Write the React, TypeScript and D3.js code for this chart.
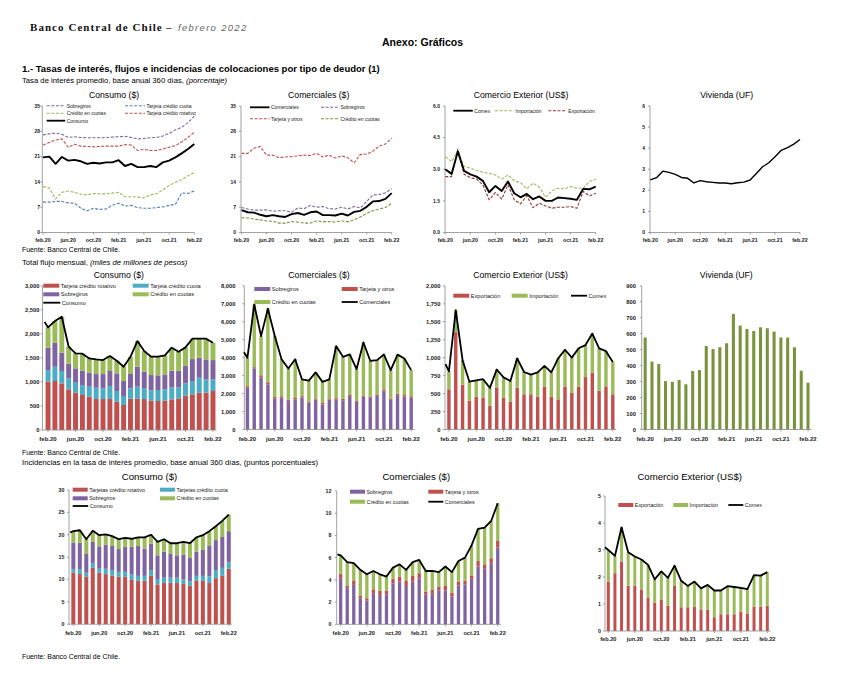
import React from "react";
import * as d3 from "d3";

// ---------------- categories ----------------
const months = ["feb.20","mar.20","abr.20","may.20","jun.20","jul.20","ago.20","sep.20","oct.20","nov.20","dic.20","ene.21","feb.21","mar.21","abr.21","may.21","jun.21","jul.21","ago.21","sep.21","oct.21","nov.21","dic.21","ene.22","feb.22"];
const tickMonths = ["feb.20","jun.20","oct.20","feb.21","jun.21","oct.21","feb.22"];

// ---------------- tasas (porcentaje) ----------------
const rateConsumo = [20.8,21.0,19.0,20.9,19.9,20.1,19.7,19.0,19.3,19.1,19.4,19.4,20.0,18.4,19.0,18.1,18.1,18.4,18.1,19.4,19.9,20.8,21.9,23.1,24.5];
const rateConsSobregiros = [27.0,27.3,27.5,27.2,26.3,26.5,26.3,26.2,26.2,26.2,26.3,26.4,26.5,26.6,26.3,25.9,26.0,26.2,26.3,26.7,27.4,28.4,29.1,30.4,32.2];
const rateConsRotativo = [24.2,24.9,25.6,25.9,23.6,24.4,23.9,23.8,23.7,23.8,23.9,23.9,23.9,24.3,24.2,22.7,23.0,22.7,22.7,23.1,23.6,24.0,25.1,26.3,27.7];
const rateConsCuotas = [12.7,12.3,9.3,11.1,11.5,11.1,10.6,10.4,10.8,10.7,10.7,10.9,11.1,9.9,9.9,9.8,9.6,10.4,10.7,11.8,13.0,13.9,14.6,15.7,16.6];
const rateConsTarjCuota = [8.4,8.4,8.6,8.6,8.2,8.1,6.7,6.0,6.7,6.4,6.5,7.5,8.1,7.3,7.5,6.9,6.7,6.7,6.9,7.1,7.5,7.8,10.9,10.8,11.5];

const rateComerciales = [6.2,5.6,5.5,4.9,4.5,4.8,4.5,4.3,5.1,5.4,4.9,5.6,5.8,4.8,4.8,4.7,5.2,4.7,5.7,6.0,7.1,8.6,8.7,9.3,10.9];
const rateComTarjeta = [21.9,21.9,23.3,23.8,21.4,21.4,20.7,20.9,21.0,21.2,21.4,21.3,21.9,20.9,21.4,20.6,21.2,20.7,19.3,21.6,21.7,22.5,23.9,24.5,26.1];
const rateComSobregiros = [6.9,6.5,6.2,6.2,6.3,5.9,6.0,6.0,5.6,6.8,6.6,7.5,7.0,7.2,6.6,6.5,7.0,6.5,7.2,6.8,8.6,10.4,10.5,11.0,12.1];
const rateComCuotas = [4.1,4.0,3.7,3.5,3.2,3.1,2.6,2.6,3.0,2.9,2.6,2.6,3.2,3.0,3.0,2.9,3.2,3.0,3.5,4.3,5.3,6.0,6.5,6.9,8.1];

const rateComex = [3.0,2.78,3.84,2.92,2.76,2.65,2.45,1.91,2.21,1.97,2.42,1.86,1.67,1.83,1.58,1.71,1.5,1.5,1.66,1.63,1.6,1.55,2.07,2.05,2.18];
const rateImport = [3.6,3.36,3.9,3.13,3.05,2.94,2.86,2.81,2.73,2.53,2.73,2.45,2.37,2.07,2.34,2.15,1.67,1.97,2.1,2.07,2.18,2.1,2.1,2.42,2.53];
const rateExport = [2.65,2.65,3.96,2.76,2.6,2.53,2.26,1.55,1.9,1.58,2.26,1.55,1.36,1.74,1.18,1.39,1.26,1.15,1.2,1.2,1.23,1.15,1.95,1.74,1.86];

const rateVivienda = [2.5,2.6,2.91,2.85,2.76,2.61,2.57,2.35,2.46,2.41,2.38,2.35,2.35,2.31,2.36,2.39,2.49,2.8,3.12,3.31,3.59,3.9,4.03,4.19,4.41];

// ---------------- flujos (miles de millones) ----------------
const flowConsRotativo = [1005,1019,970,845,776,728,693,644,644,644,589,520,651,651,644,610,603,610,637,658,714,742,776,776,811];
const flowConsTarjCuota = [242,298,257,229,208,207,208,236,222,271,222,187,215,250,229,215,229,235,250,229,256,277,312,277,242];
const flowConsSobregiros = [464,499,381,305,298,299,291,284,298,312,367,312,312,416,340,318,305,312,347,347,361,457,416,416,402];
const flowConsCuotas = [423,450,748,354,312,353,298,305,291,311,263,298,347,533,429,382,388,395,478,394,388,423,395,430,361];
const flowConsLead = 2250;

const flowComSobregiros = [2320,3400,2900,2500,1730,1780,1580,1670,1780,1490,1670,1390,1670,1670,1630,1860,1540,1820,1760,1860,2130,1650,1910,1840,1780];
const flowComTarjeta = [90,70,120,130,90,75,90,90,75,70,60,90,60,75,75,90,75,75,75,75,75,75,90,75,75];
const flowComCuotas = [1580,3490,2180,4100,3400,2060,1730,2150,930,1160,1450,1170,1060,2900,2340,2230,1750,2950,1990,1930,1970,1580,2170,2040,1450];
const flowComLead = 4300;

const flowExport = [560,1355,625,400,455,445,330,585,440,385,580,490,490,455,595,455,420,600,510,595,730,790,540,600,490];
const flowImport = [250,305,340,265,230,255,250,250,285,290,410,310,275,340,290,340,570,510,490,535,445,545,590,490,450];
const flowComexLead = 910;

const flowVivienda = [576,425,410,303,299,310,283,366,372,523,504,515,540,724,651,630,617,640,634,613,576,576,515,368,293];

// ---------------- incidencias (puntos porcentuales) ----------------
const incConsRotativo = [11.5,11.2,10.6,12.6,11.5,11.2,10.9,10.6,10.6,10.0,9.7,9.7,10.8,8.9,9.2,9.3,9.2,9.0,8.6,9.7,9.7,9.2,10.3,10.8,12.4];
const incConsTarjCuota = [0.8,1.1,0.9,1.1,0.9,1.2,1.2,1.1,1.1,1.1,1.1,1.1,1.3,1.2,1.2,1.1,1.2,1.0,1.0,1.1,1.1,1.5,1.8,1.8,1.4];
const incConsSobregiros = [5.9,5.9,4.2,4.7,5.0,5.4,5.4,5.1,5.6,6.2,6.7,6.1,5.9,5.3,5.8,5.4,5.0,5.6,5.2,5.4,5.9,6.9,6.7,6.9,7.0];
const incConsCuotas = [2.6,2.8,3.3,2.5,2.5,2.3,2.2,2.2,2.0,1.8,1.9,2.5,2.0,3.0,2.8,2.3,2.7,2.8,3.3,3.2,3.2,3.2,3.1,3.6,3.7];
const incConsLead = 20.5;

const incComSobregiros = [4.1,3.25,3.55,2.35,2.15,2.8,2.65,2.7,3.65,3.85,3.45,3.85,4.15,2.7,2.75,3.05,3.05,2.5,3.5,3.6,4.1,5.2,5.05,5.5,6.9];
const incComTarjeta = [0.45,0.2,0.35,0.25,0.2,0.35,0.35,0.35,0.45,0.45,0.45,0.5,0.45,0.25,0.35,0.35,0.4,0.35,0.35,0.35,0.3,0.5,0.35,0.45,0.6];
const incComCuotas = [1.65,2.15,1.6,2.3,2.15,1.65,1.5,1.25,1.0,1.1,1.0,1.25,1.2,1.85,1.7,1.3,1.75,1.85,1.85,2.05,2.7,2.9,3.3,3.35,3.4];
const incComLead = 6.3;

const incExport = [1.83,2.14,2.57,1.68,1.68,1.54,1.23,1.05,1.17,0.93,1.67,0.88,0.88,0.9,0.78,0.78,0.51,0.62,0.62,0.62,0.72,0.65,0.9,0.9,0.94];
const incImport = [1.17,0.64,1.27,1.24,1.08,1.11,1.22,0.86,1.04,1.04,0.75,0.98,0.79,0.93,0.8,0.93,0.99,0.88,1.04,1.01,0.88,0.9,1.17,1.15,1.24];
const incComexLead = 3.1;

// ---------------- styling ----------------
const FONT = "'Liberation Sans', Arial, Helvetica, sans-serif";
const AXIS = "#8a8a8a";
const C = {
  red: "#C0504D", blue: "#4BACC6", purple: "#8064A2", green: "#9BBB59",
  dgreen: "#77933C", lblue: "#4F81BD", dred: "#953735", black: "#000000",
};

type LegendItem = { label: string; kind: "rect" | "line" | "dash"; color: string; x: number; y: number; w?: number };

function Legend({ items, fs }: { items: LegendItem[]; fs: number }) {
  return (
    <g>
      {items.map((it, i) => {
        const w = it.w ?? 16;
        return (
          <g key={i}>
            {it.kind === "rect" ? (
              <rect x={it.x} y={it.y - 2} width={w} height={4} fill={it.color} />
            ) : (
              <line x1={it.x} x2={it.x + w} y1={it.y} y2={it.y} stroke={it.color}
                strokeWidth={it.kind === "line" ? 1.8 : 1.1}
                strokeDasharray={it.kind === "dash" ? "3,1.6" : undefined} />
            )}
            <text x={it.x + w + 1.5} y={it.y} dy="0.36em" fontSize={fs} fill="#1a1a1a">{it.label}</text>
          </g>
        );
      })}
    </g>
  );
}

type FrameCfg = {
  axisX: number; right: number; top: number; bottom: number;
  yMax: number; yStep: number; fmt: (v: number) => string;
  labelRight: number; tickFs: number; xLabelY: number; xFs: number;
  title: string; titleX: number; titleY: number; titleFs: number;
};

function Frame({ f, y, xOf }: { f: FrameCfg; y: d3.ScaleLinear<number, number>; xOf: (m: string) => number }) {
  const ticks = d3.range(0, f.yMax + f.yStep / 2, f.yStep);
  return (
    <g>
      <text x={f.titleX} y={f.titleY} textAnchor="middle" fontSize={f.titleFs} fill="#000">{f.title}</text>
      <line x1={f.axisX} x2={f.axisX} y1={f.bottom} y2={f.top} stroke={AXIS} strokeWidth={0.8} />
      <line x1={f.axisX} x2={f.right} y1={f.bottom} y2={f.bottom} stroke={AXIS} strokeWidth={0.8} />
      {ticks.map((t) => (
        <g key={t}>
          <line x1={f.axisX - 2} x2={f.axisX} y1={y(t)} y2={y(t)} stroke={AXIS} strokeWidth={0.8} />
          <text x={f.labelRight} y={y(t)} dy="0.36em" textAnchor="end" fontSize={f.tickFs} fontWeight="bold" fill="#222">{f.fmt(t)}</text>
        </g>
      ))}
      {tickMonths.map((m) => (
        <g key={m}>
          <line x1={xOf(m)} x2={xOf(m)} y1={f.bottom} y2={f.bottom + 2} stroke={AXIS} strokeWidth={0.8} />
          <text x={xOf(m)} y={f.xLabelY} textAnchor="middle" fontSize={f.xFs} fontWeight="bold" fill="#222">{m}</text>
        </g>
      ))}
    </g>
  );
}

type LineSeries = { values: number[]; color: string; dash?: boolean; width: number };

function RatePanel({ f, x0, series, legend, legendFs }: { f: FrameCfg; x0: number; series: LineSeries[]; legend: LegendItem[]; legendFs: number }) {
  const x = d3.scalePoint<string>().domain(months).range([x0, f.right]);
  const y = d3.scaleLinear().domain([0, f.yMax]).range([f.bottom, f.top]);
  const line = d3.line<number>().x((_, i) => x(months[i]) as number).y((d) => y(d));
  return (
    <g>
      <Frame f={f} y={y} xOf={(m) => x(m) as number} />
      {series.map((s, i) => (
        <path key={i} d={line(s.values) || ""} fill="none" stroke={s.color} strokeWidth={s.width}
          strokeDasharray={s.dash ? "3,1.6" : undefined} strokeLinejoin="round" />
      ))}
      <Legend items={legend} fs={legendFs} />
    </g>
  );
}

type StackSeries = { key: string; values: number[]; color: string };

function StackPanel({ f, band, ratio, stacks, lead, legend, legendFs }: {
  f: FrameCfg; band: [number, number]; ratio: number; stacks: StackSeries[]; lead?: number; legend: LegendItem[]; legendFs: number;
}) {
  const x = d3.scaleBand<string>().domain(months).range(band).padding(0);
  const y = d3.scaleLinear().domain([0, f.yMax]).range([f.bottom, f.top]);
  const bw = x.bandwidth();
  const w = bw * ratio;
  const table = months.map((m, i) => {
    const o: Record<string, any> = { m };
    stacks.forEach((s) => (o[s.key] = s.values[i]));
    return o;
  });
  const layers = d3.stack<Record<string, any>>().keys(stacks.map((s) => s.key))(table);
  const totals = months.map((_, i) => d3.sum(stacks, (s) => s.values[i]));
  const pts: [number, number][] = [];
  if (lead !== undefined) {
    pts.push([band[0], lead]);
    totals.forEach((v, i) => pts.push([(x(months[i]) as number) + bw / 2, v]));
  }
  const line = d3.line<[number, number]>().x((d) => d[0]).y((d) => y(d[1]));
  return (
    <g>
      {layers.map((layer, li) => (
        <g key={li} fill={stacks[li].color}>
          {layer.map((d, i) => (
            <rect key={i} x={(x(months[i]) as number) + (bw - w) / 2} width={w}
              y={y(d[1])} height={Math.max(0, y(d[0]) - y(d[1]))} />
          ))}
        </g>
      ))}
      <Frame f={f} y={y} xOf={(m) => (x(m) as number) + bw / 2} />
      {lead !== undefined && (
        <path d={line(pts) || ""} fill="none" stroke="#000" strokeWidth={1.8} strokeLinejoin="round" />
      )}
      <Legend items={legend} fs={legendFs} />
    </g>
  );
}

const fmtInt = (v: number) => String(v);
const fmt1 = d3.format(".1f");
const fmtComma = d3.format(",");

export default function App() {
  const r1 = { top: 106, bottom: 232.5, tickFs: 5, xLabelY: 242, xFs: 5.3, titleY: 97.7, titleFs: 8.7 };
  const r2 = { top: 285.8, bottom: 429.5, tickFs: 5.8, xLabelY: 441, xFs: 6, titleY: 278, titleFs: 8.7 };
  const r3 = { top: 490, bottom: 624.2, tickFs: 5.3, xLabelY: 634.5, xFs: 5.6, titleY: 479.5, titleFs: 9.6 };

  return (
    <svg width={857} height={678} fontFamily={FONT}
      style={{ position: "absolute", left: 0, top: 0, background: "#fff", display: "block" }}>
      <rect x={0} y={0} width={857} height={678} fill="#fff" />
      {/* header */}
      <text x={30} y={31} fontFamily="'Liberation Serif', 'Times New Roman', serif" fontWeight="bold" fontSize={11} letterSpacing={1.05} fill="#111">Banco Central de Chile</text>
      <text x={166} y={31} fontSize={10} fill="#333">–</text>
      <text x={178} y={31} fontStyle="italic" fontSize={9.5} letterSpacing={1.3} fill="#666">febrero 2022</text>
      <text x={382} y={46} fontWeight="bold" fontSize={10.5} fill="#000">Anexo: Gráficos</text>
      <text x={22} y={71.5} fontWeight="bold" fontSize={9.5} fill="#000">1.- Tasas de interés, flujos e incidencias de colocaciones por tipo de deudor (1)</text>
      <text x={22} y={83} fontSize={7.7} fill="#000">Tasa de interés promedio, base anual 360 días, <tspan fontStyle="italic">(porcentaje)</tspan></text>
      <text x={22} y={252} fontSize={6.9} fill="#000">Fuente: Banco Central de Chile.</text>
      <text x={22} y={264.5} fontSize={7.7} fill="#000">Total flujo mensual, <tspan fontStyle="italic">(miles de millones de pesos)</tspan></text>
      <text x={22} y={454.5} fontSize={6.9} fill="#000">Fuente: Banco Central de Chile.</text>
      <text x={22} y={465} fontSize={7.7} fill="#000">Incidencias en la tasa de interés promedio, base anual 360 días, (puntos porcentuales)</text>
      <text x={22} y={659} fontSize={6.9} fill="#000">Fuente: Banco Central de Chile.</text>

      {/* ---------- Row 1: tasas ---------- */}
      <RatePanel
        f={{ ...r1, axisX: 42.3, right: 194.3, yMax: 35, yStep: 7, fmt: fmtInt, labelRight: 40, title: "Consumo ($)", titleX: 114 }}
        x0={43}
        series={[
          { values: rateConsSobregiros, color: C.purple, dash: true, width: 1.1 },
          { values: rateConsTarjCuota, color: C.lblue, dash: true, width: 1.1 },
          { values: rateConsCuotas, color: C.green, dash: true, width: 1.1 },
          { values: rateConsRotativo, color: C.red, dash: true, width: 1.1 },
          { values: rateConsumo, color: C.black, width: 1.9 },
        ]}
        legend={[
          { label: "Sobregiros", kind: "dash", color: C.purple, x: 46.7, y: 105.7, w: 18.5 },
          { label: "Tarjeta crédito cuota", kind: "dash", color: C.lblue, x: 125, y: 105.7, w: 20 },
          { label: "Crédito en cuotas", kind: "dash", color: C.green, x: 46.7, y: 113.2, w: 18.5 },
          { label: "Tarjeta crédito rotativo", kind: "dash", color: C.red, x: 125, y: 113.2, w: 20 },
          { label: "Consumo", kind: "line", color: C.black, x: 46.7, y: 120.7, w: 18.5 },
        ]}
        legendFs={5}
      />
      <RatePanel
        f={{ ...r1, axisX: 241, right: 391.7, yMax: 35, yStep: 7, fmt: fmtInt, labelRight: 236, title: "Comerciales ($)", titleX: 318.7 }}
        x0={241.5}
        series={[
          { values: rateComTarjeta, color: C.red, dash: true, width: 1.1 },
          { values: rateComSobregiros, color: C.purple, dash: true, width: 1.1 },
          { values: rateComCuotas, color: C.dgreen, dash: true, width: 1.1 },
          { values: rateComerciales, color: C.black, width: 1.9 },
        ]}
        legend={[
          { label: "Comerciales", kind: "line", color: C.black, x: 250, y: 107.3, w: 19.5 },
          { label: "Sobregiros", kind: "dash", color: C.purple, x: 321, y: 107.3, w: 18 },
          { label: "Tarjeta y otros", kind: "dash", color: C.red, x: 250, y: 118.7, w: 19.5 },
          { label: "Crédito en cuotas", kind: "dash", color: C.dgreen, x: 321, y: 118.7, w: 18 },
        ]}
        legendFs={5}
      />
      <RatePanel
        f={{ ...r1, axisX: 445, right: 595.7, yMax: 6, yStep: 1.5, fmt: fmt1, labelRight: 440, title: "Comercio Exterior (US$)", titleX: 521 }}
        x0={445.3}
        series={[
          { values: rateImport, color: C.green, dash: true, width: 1.1 },
          { values: rateExport, color: C.dred, dash: true, width: 1.1 },
          { values: rateComex, color: C.black, width: 1.9 },
        ]}
        legend={[
          { label: "Comex", kind: "line", color: C.black, x: 453.3, y: 110.7, w: 19.5 },
          { label: "Importación", kind: "dash", color: C.green, x: 495, y: 110.7, w: 19 },
          { label: "Exportación", kind: "dash", color: C.dred, x: 548.3, y: 110.7, w: 18.5 },
        ]}
        legendFs={5}
      />
      <RatePanel
        f={{ ...r1, axisX: 650, right: 800, yMax: 6, yStep: 1, fmt: fmtInt, labelRight: 645, title: "Vivienda (UF)", titleX: 726.7 }}
        x0={650.3}
        series={[{ values: rateVivienda, color: C.black, width: 1.4 }]}
        legend={[]}
        legendFs={5}
      />

      {/* ---------- Row 2: flujos ---------- */}
      <StackPanel
        f={{ ...r2, bottom: 430, axisX: 42.5, right: 216.5, yMax: 3000, yStep: 500, fmt: fmtComma, labelRight: 39.5, xLabelY: 440.5, title: "Consumo ($)", titleX: 118.8 }}
        band={[44.6, 216.4]} ratio={0.72}
        stacks={[
          { key: "rot", values: flowConsRotativo, color: C.red },
          { key: "cuo", values: flowConsTarjCuota, color: C.blue },
          { key: "sob", values: flowConsSobregiros, color: C.purple },
          { key: "cre", values: flowConsCuotas, color: C.green },
        ]}
        lead={flowConsLead}
        legend={[
          { label: "Tarjeta crédito rotativo", kind: "rect", color: C.red, x: 43.3, y: 285.7 },
          { label: "Tarjeta crédito cuota", kind: "rect", color: C.blue, x: 132.7, y: 285.7 },
          { label: "Sobregiros", kind: "rect", color: C.purple, x: 43.3, y: 294.3 },
          { label: "Crédito en cuotas", kind: "rect", color: C.green, x: 132.7, y: 294.3 },
          { label: "Consumo", kind: "line", color: C.black, x: 43.3, y: 302.7, w: 17 },
        ]}
        legendFs={5.6}
      />
      <StackPanel
        f={{ ...r2, axisX: 244.3, right: 414.6, yMax: 8000, yStep: 1000, fmt: fmtComma, labelRight: 235.5, title: "Comerciales ($)", titleX: 319 }}
        band={[244, 414.6]} ratio={0.5}
        stacks={[
          { key: "sob", values: flowComSobregiros, color: C.purple },
          { key: "tar", values: flowComTarjeta, color: C.red },
          { key: "cre", values: flowComCuotas, color: C.green },
        ]}
        lead={flowComLead}
        legend={[
          { label: "Sobregiros", kind: "rect", color: C.purple, x: 254.3, y: 289 },
          { label: "Tarjeta y otros", kind: "rect", color: C.red, x: 341.7, y: 289 },
          { label: "Crédito en cuotas", kind: "rect", color: C.green, x: 254.3, y: 302 },
          { label: "Comerciales", kind: "line", color: C.black, x: 341.7, y: 302 },
        ]}
        legendFs={5.6}
      />
      <StackPanel
        f={{ ...r2, axisX: 445, right: 616.2, yMax: 2000, yStep: 250, fmt: fmtComma, labelRight: 440.5, title: "Comercio Exterior (US$)", titleX: 520.5 }}
        band={[445.5, 616.2]} ratio={0.5}
        stacks={[
          { key: "exp", values: flowExport, color: C.red },
          { key: "imp", values: flowImport, color: C.green },
        ]}
        lead={flowComexLead}
        legend={[
          { label: "Exportación", kind: "rect", color: C.red, x: 453.3, y: 295.7 },
          { label: "Importación", kind: "rect", color: C.green, x: 511.7, y: 295.7 },
          { label: "Comex", kind: "line", color: C.black, x: 571, y: 295.7 },
        ]}
        legendFs={5.6}
      />
      <StackPanel
        f={{ ...r2, axisX: 641.7, right: 811.4, yMax: 900, yStep: 100, fmt: fmtInt, labelRight: 636, title: "Vivienda (UF)", titleX: 726.3 }}
        band={[641.8, 811.4]} ratio={0.45}
        stacks={[{ key: "viv", values: flowVivienda, color: C.dgreen }]}
        legend={[]}
        legendFs={5.6}
      />

      {/* ---------- Row 3: incidencias ---------- */}
      <StackPanel
        f={{ ...r3, axisX: 69, right: 232, yMax: 30, yStep: 5, fmt: fmtInt, labelRight: 64.5, title: "Consumo ($)", titleX: 149.5 }}
        band={[70.1, 232]} ratio={0.62}
        stacks={[
          { key: "rot", values: incConsRotativo, color: C.red },
          { key: "cuo", values: incConsTarjCuota, color: C.blue },
          { key: "sob", values: incConsSobregiros, color: C.purple },
          { key: "cre", values: incConsCuotas, color: C.green },
        ]}
        lead={incConsLead}
        legend={[
          { label: "Tarjetas crédito rotativo", kind: "rect", color: C.red, x: 72.7, y: 489.7, w: 15 },
          { label: "Tarjetas crédito cuota", kind: "rect", color: C.blue, x: 160, y: 489.7, w: 15 },
          { label: "Sobregiros", kind: "rect", color: C.purple, x: 72.7, y: 498.3, w: 15 },
          { label: "Crédito en cuotas", kind: "rect", color: C.green, x: 160, y: 498.3, w: 15 },
          { label: "Consumo", kind: "line", color: C.black, x: 72.7, y: 506, w: 15.5 },
        ]}
        legendFs={5.4}
      />
      <StackPanel
        f={{ ...r3, top: 491, bottom: 624.3, axisX: 336.7, right: 501, yMax: 12, yStep: 2, fmt: fmtInt, labelRight: 331.5, title: "Comerciales ($)", titleX: 416.3, titleY: 480 }}
        band={[337.4, 501]} ratio={0.5}
        stacks={[
          { key: "sob", values: incComSobregiros, color: C.purple },
          { key: "tar", values: incComTarjeta, color: C.red },
          { key: "cre", values: incComCuotas, color: C.green },
        ]}
        lead={incComLead}
        legend={[
          { label: "Sobregiros", kind: "rect", color: C.purple, x: 350, y: 491.7, w: 15 },
          { label: "Tarjeta y otros", kind: "rect", color: C.red, x: 428.3, y: 491.7, w: 15 },
          { label: "Crédito en cuotas", kind: "rect", color: C.green, x: 350, y: 501.7, w: 15 },
          { label: "Comerciales", kind: "line", color: C.black, x: 428.3, y: 501.7, w: 15 },
        ]}
        legendFs={5.4}
      />
      <StackPanel
        f={{ ...r3, top: 496, bottom: 631, xLabelY: 641, axisX: 605, right: 770.6, yMax: 5, yStep: 1, fmt: fmtInt, labelRight: 601, title: "Comercio Exterior (US$)", titleX: 689.7 }}
        band={[605, 770.6]} ratio={0.45}
        stacks={[
          { key: "exp", values: incExport, color: C.red },
          { key: "imp", values: incImport, color: C.green },
        ]}
        lead={incComexLead}
        legend={[
          { label: "Exportación", kind: "rect", color: C.red, x: 618.3, y: 505, w: 15 },
          { label: "Importación", kind: "rect", color: C.green, x: 673.3, y: 505, w: 15 },
          { label: "Comex", kind: "line", color: C.black, x: 728.3, y: 505, w: 15 },
        ]}
        legendFs={5.4}
      />
    </svg>
  );
}
